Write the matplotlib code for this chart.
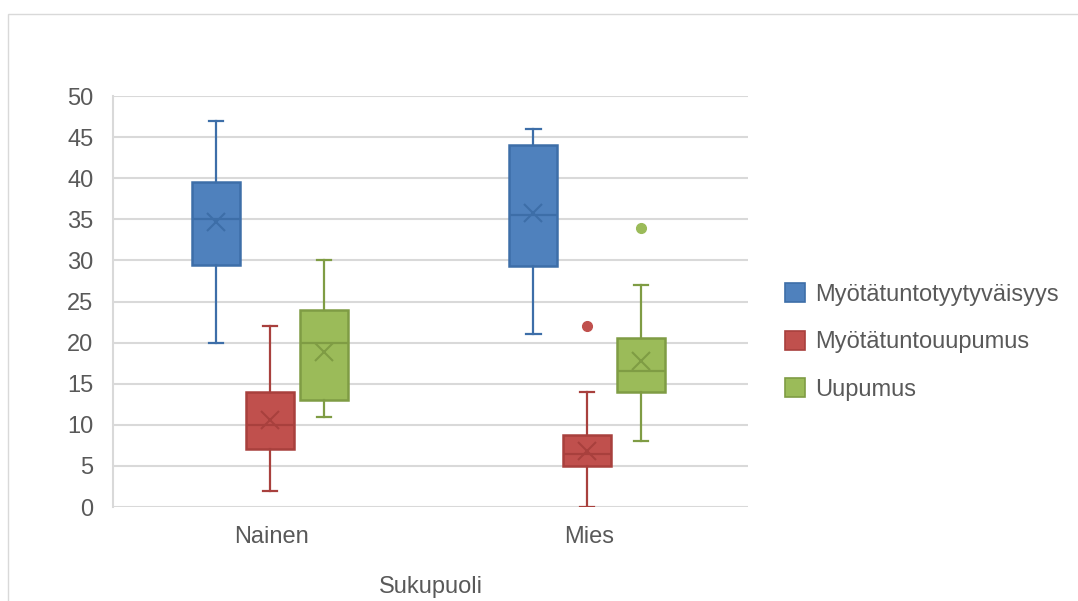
import numpy as np
import matplotlib.pyplot as plt
from matplotlib.patches import Patch, Rectangle

plt.rcParams['font.family'] = ['Liberation Sans', 'DejaVu Sans']

groups = ['Nainen', 'Mies']
series = ['Myötätuntotyytyväisyys', 'Myötätuntouupumus', 'Uupumus']
fill = ['#4f81bd', '#c0504d', '#9bbb59']
edge = ['#3d6ea8', '#a8403d', '#7f9c44']

# per series: [Nainen, Mies]
wmin = [[20, 21], [2, 0], [11, 8]]
q1 = [[29.5, 29.3], [7, 5], [13, 14]]
med = [[35, 35.5], [10, 6.5], [20, 16.5]]
mean = [[34.7, 35.8], [10.6, 6.8], [18.9, 17.8]]
q3 = [[39.5, 44], [14, 8.8], [24, 20.5]]
wmax = [[47, 46], [22, 14], [30, 27]]
fliers = [[[], []], [[], [22]], [[], [34]]]

fig = plt.figure(figsize=(10.78, 6.01), dpi=100)
fig.patches.append(Rectangle((8 / 1078, -0.1), 1.2, (601 - 14) / 601 + 0.1,
                             transform=fig.transFigure, fill=False,
                             edgecolor='#d9d9d9', lw=1))
ax = fig.add_axes([113 / 1078, 94 / 601, 635 / 1078, 411 / 601])

offsets = [-0.17, 0, 0.17]
for s in range(3):
    stats = []
    for g in range(2):
        stats.append(dict(whislo=wmin[s][g], q1=q1[s][g], med=med[s][g],
                          mean=mean[s][g], q3=q3[s][g], whishi=wmax[s][g],
                          fliers=fliers[s][g]))
    pos = [g + 1 + offsets[s] - 0.006 for g in range(2)]
    ax.bxp(stats, positions=pos, widths=0.151, capwidths=0.045,
           patch_artist=True, showmeans=True, manage_ticks=False,
           boxprops=dict(facecolor=fill[s], edgecolor=edge[s], lw=1.8),
           medianprops=dict(color=edge[s], lw=1.6),
           whiskerprops=dict(color=edge[s], lw=1.6),
           capprops=dict(color=edge[s], lw=1.6),
           meanprops=dict(marker='x', markersize=13, markeredgecolor=edge[s],
                          markeredgewidth=1.5),
           flierprops=dict(marker='o', markersize=7, markerfacecolor=fill[s],
                           markeredgecolor=fill[s]), zorder=3)

ax.set_xlim(0.5, 2.5)
ax.set_ylim(0, 50)
ax.set_yticks(np.arange(0, 51, 5))
ax.set_xticks([1, 2])
ax.set_xticklabels(groups)
ax.grid(axis='y', color='#d9d9d9', lw=1.5, zorder=0)
ax.set_axisbelow(True)
for sp in ['top', 'right', 'bottom']:
    ax.spines[sp].set_visible(False)
ax.spines['left'].set_color('#d9d9d9')
ax.spines['left'].set_linewidth(1.5)
ax.tick_params(length=0, labelsize=17, colors='#595959', pad=14)
ax.tick_params(axis='x', pad=14)
ax.set_xlabel('Sukupuoli', fontsize=17, color='#595959', labelpad=20)

handles = [Patch(facecolor=fill[i], edgecolor=edge[i], lw=1.2) for i in range(3)]
leg = fig.legend(handles, series, loc='center left',
                 bbox_to_anchor=(764 / 1078, 1 - 342 / 601), frameon=False,
                 fontsize=17, handlelength=0.85, handleheight=0.85,
                 handletextpad=0.4, labelspacing=1.06, labelcolor='#595959')

fig.savefig('out.png', dpi=100)
